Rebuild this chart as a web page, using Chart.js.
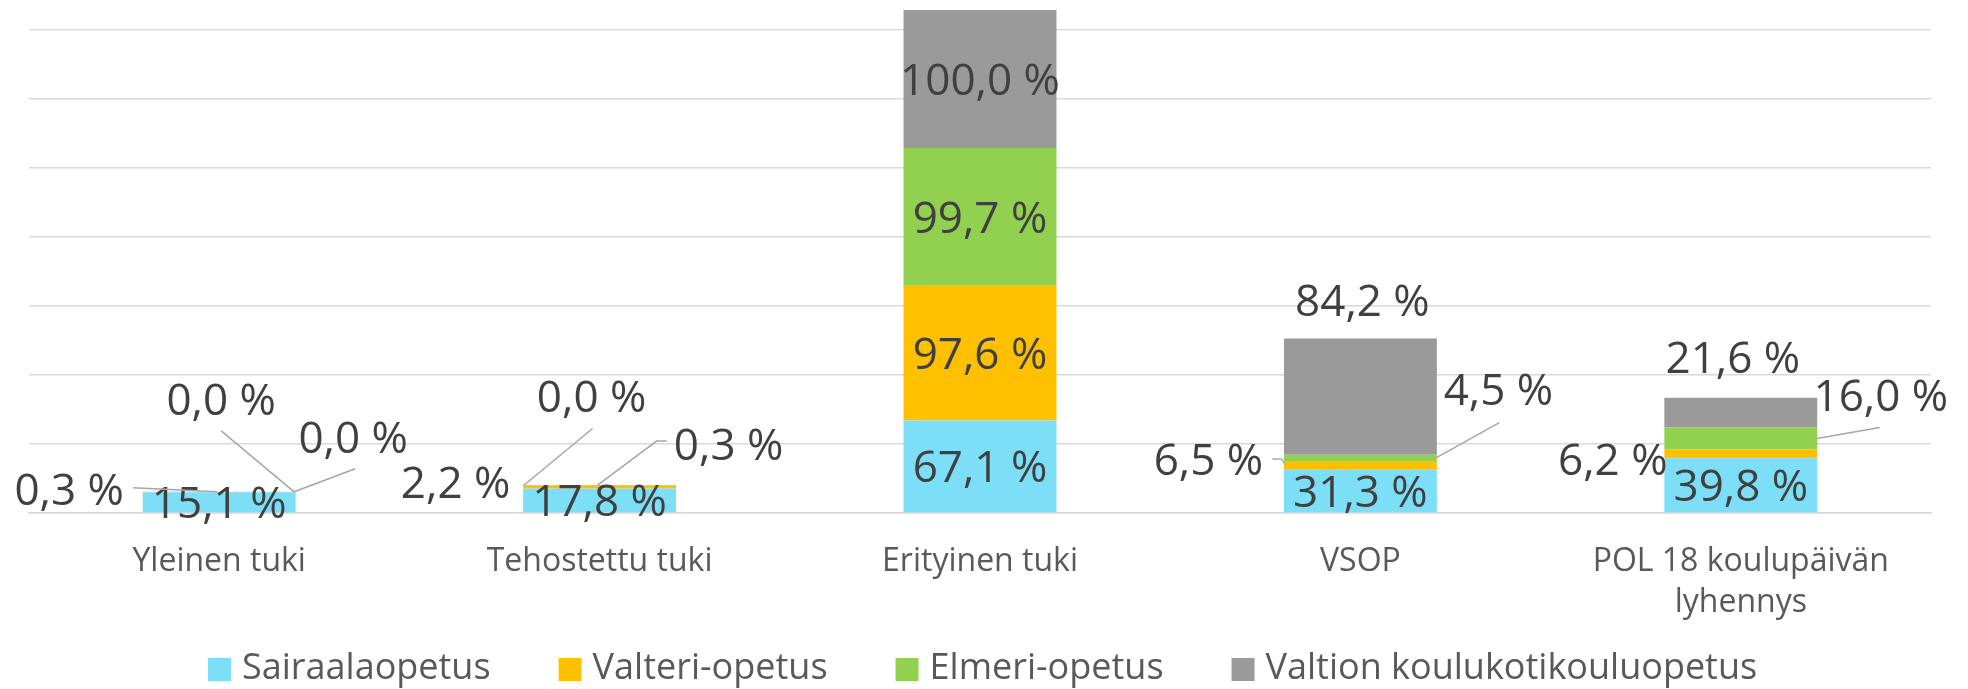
<!DOCTYPE html>
<html>
<head>
<meta charset="utf-8">
<script src="https://cdn.jsdelivr.net/npm/chart.js@4.4.1/dist/chart.umd.min.js"></script>
<style>
  html, body { margin: 0; padding: 0; background: #fff; }
  #wrap { width: 1968px; height: 689px; position: relative; }
</style>
</head>
<body>
<div id="wrap"><canvas id="chart"></canvas></div>
<script>
// Data
const categories = ["Yleinen tuki", "Tehostettu tuki", "Erityinen tuki", "VSOP", ["POL 18 koulupäivän", "lyhennys"]];
const seriesNames = ["Sairaalaopetus", "Valteri-opetus", "Elmeri-opetus", "Valtion koulukotikouluopetus"];
const sairaala = [15.1, 17.8, 67.1, 31.3, 39.8];
const valteri = [0.3, 2.2, 97.6, 6.5, 6.2];
const elmeri = [0.0, 0.0, 99.7, 4.5, 16.0];
const valtion = [0.0, 0.3, 100.0, 84.2, 21.6];

const colors = ['#7CDEF7', '#FFC000', '#92D050', '#9A9A9A'];

// Label placement (offsets in px from the segment's top centre), "dataset-category"
const placements = {
  '1-0': { label: [-150, -3], leader: [[-86, -4], [-2, 0]] },
  '2-0': { label: [2, -93], leader: [[2, -61], [75, 0]] },
  '3-0': { label: [134, -55], leader: [[136, -23], [75, 0]] },
  '1-1': { label: [-144, -3] },
  '2-1': { label: [-8, -89], leader: [[-7, -57], [-76, 0]] },
  '3-1': { label: [129, -41], leader: [[67, -44], [57, -44], [-2, 0]] },
  '1-3': { label: [-152, -2], leader: [[-88, -2], [-79, -2], [-75, 4]] },
  '2-3': { label: [138, -66], leader: [[139, -32], [76, 3]] },
  '3-3': { label: [2, -38] },
  '1-4': { label: [-128, 9] },
  '2-4': { label: [140, -32], leader: [[139, 0], [76, 11]] },
  '3-4': { label: [-8, -41] }
};

const barLabels = {
  id: 'barLabels',
  afterDatasetsDraw(chart) {
    const ctx = chart.ctx;
    ctx.save();
    ctx.font = '44px "Open Sans"';
    ctx.textAlign = 'center';
    ctx.textBaseline = 'alphabetic';
    ctx.strokeStyle = '#A6A6A6';
    ctx.lineWidth = 1.5;
    chart.data.datasets.forEach((ds, i) => {
      chart.getDatasetMeta(i).data.forEach((el, j) => {
        const text = ds.data[j].toFixed(1).replace('.', ',') + ' %';
        const p = placements[i + '-' + j];
        let cx, cy;
        if (p) {
          cx = el.x + p.label[0];
          cy = el.y + p.label[1];
          if (p.leader) {
            ctx.beginPath();
            p.leader.forEach((pt, k) => {
              if (k === 0) ctx.moveTo(el.x + pt[0], el.y + pt[1]);
              else ctx.lineTo(el.x + pt[0], el.y + pt[1]);
            });
            ctx.stroke();
          }
        } else {
          cx = el.x;
          cy = (el.y + el.base) / 2;
        }
        ctx.fillStyle = '#404040';
        ctx.fillText(text, cx, cy + 16);
      });
    });
    ctx.restore();
  }
};

// Legend drawn at the bottom
const bottomLegend = {
  id: 'bottomLegend',
  afterDraw(chart) {
    const ctx = chart.ctx;
    ctx.save();
    ctx.font = '36px "Open Sans"';
    ctx.textBaseline = 'alphabetic';
    ctx.textAlign = 'left';
    let x = 208;
    const boxTop = chart.height - 31;
    chart.data.datasets.forEach((ds) => {
      ctx.fillStyle = ds.backgroundColor;
      ctx.fillRect(x, boxTop, 23, 23);
      ctx.fillStyle = '#595959';
      ctx.fillText(ds.label, x + 34, chart.height - 10);
      x += 34 + ctx.measureText(ds.label).width + 68;
    });
    ctx.restore();
  }
};

const seriesValues = [sairaala, valteri, elmeri, valtion];

const chartData = {
  labels: categories,
  datasets: seriesNames.map((name, i) => ({
    label: name,
    data: seriesValues[i],
    backgroundColor: colors[i],
    borderWidth: 0,
    categoryPercentage: 1,
    barPercentage: 0.402
  }))
};

const chartOptions = {
  responsive: true,
  maintainAspectRatio: false,
  animation: false,
  layout: {
    padding: { left: 29, right: 37, top: 0, bottom: 38 }
  },
  scales: {
    x: {
      stacked: true,
      grid: { display: false, drawTicks: false },
      border: { color: '#D9D9D9', width: 1.5 },
      ticks: {
        color: '#595959',
        padding: 28,
        font: { family: '"Open Sans"', size: 32, lineHeight: 1.28 }
      }
    },
    y: {
      stacked: true,
      min: 0,
      max: 371.7,
      ticks: { display: false, stepSize: 50 },
      border: { display: false },
      grid: {
        drawTicks: false,
        lineWidth: 1.5,
        color: (c) => (c.tick && c.tick.value % 50 === 0) ? '#D9D9D9' : 'rgba(0,0,0,0)'
      }
    }
  },
  plugins: {
    legend: { display: false },
    tooltip: { enabled: false }
  }
};

const ctx = document.getElementById('chart');
let mainChart = new Chart(ctx, {
  type: 'bar',
  data: chartData,
  options: chartOptions,
  plugins: [barLabels, bottomLegend]
});
</script>
</body>
</html>
